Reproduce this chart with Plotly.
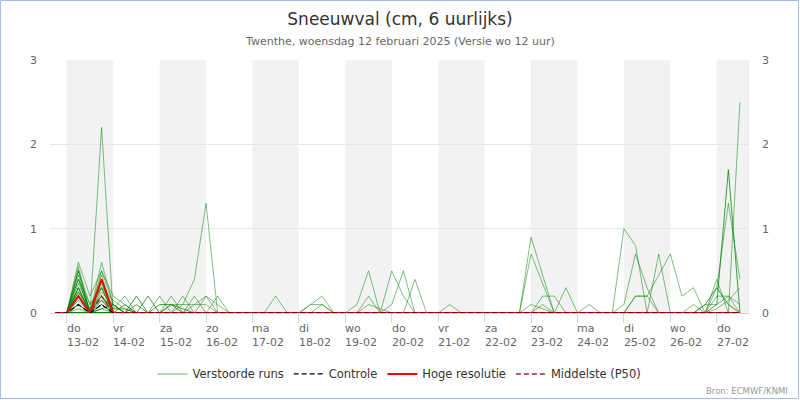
"""Sneeuwval pluim (ECMWF ensemble) voor Twenthe, 6-uurlijks."""

import pandas as pd
import plotly.graph_objects as go

# 6-uurlijkse stappen, stap 0 = wo 12-02 18:00
STAPPEN = pd.date_range("2025-02-12 18:00", periods=60, freq="6h")
DAGEN = pd.date_range("2025-02-13", periods=15, freq="D")
dag_namen = ["do", "vr", "za", "zo", "ma", "di", "wo", "do",
             "vr", "za", "zo", "ma", "di", "wo", "do"]
dag_datums = ["13-02", "14-02", "15-02", "16-02", "17-02", "18-02", "19-02", "20-02",
              "21-02", "22-02", "23-02", "24-02", "25-02", "26-02", "27-02"]
grijze_dagen = [0, 2, 4, 6, 8, 10, 12, 14]

# sneeuw per run in cm, {stap: waarde}; niet genoemde stappen zijn 0
runs_13feb = [
    {2: 0.6, 3: 0.2, 4: 0.5, 5: 0.2, 6: 0.1},
    {2: 0.55, 4: 0.6, 5: 0.1},
    {2: 0.5, 3: 0.1, 4: 0.3, 5: 0.15, 6: 0.05},
    {2: 0.45, 4: 0.45},
    {2: 0.4, 3: 0.1, 4: 0.3, 12: 0.2},
    {2: 0.35, 3: 0.05, 4: 0.15, 5: 0.1, 9: 0.2},
    {2: 0.3, 4: 2.2},
    {2: 0.25, 4: 0.1, 10: 0.2},
    {2: 0.2, 4: 0.05, 11: 0.2},
    {2: 0.15, 4: 0.35, 13: 0.2},
    {2: 0.1, 4: 0.25, 5: 0.1, 10: 0.1, 11: 0.1, 12: 0.1, 13: 0.1},
    {2: 0.05, 4: 0.5, 5: 0.1},
    {2: 0.3, 4: 0.4, 5: 0.05, 6: 0.2},
    {11: 0.1, 12: 0.4, 13: 1.3},
    {14: 0.2},
    {12: 0.1, 13: 0.2, 14: 0.1},
]
runs_13feb_donker = [
    {2: 0.5, 4: 0.15, 7: 0.2},
    {2: 0.4, 4: 0.2, 6: 0.1},
    {2: 0.3, 4: 0.1, 8: 0.2},
    {2: 0.2, 4: 0.3, 9: 0.1, 10: 0.1},
    {2: 0.1, 4: 0.05, 5: 0.1, 7: 0.1},
    {2: 0.25, 3: 0.05, 4: 0.2, 5: 0.05, 6: 0.05, 10: 0.1, 11: 0.05},
]
runs_17feb = [
    {19: 0.2},
    {22: 0.1, 23: 0.2},
    {22: 0.1, 23: 0.1},
    {23: 0.1},
    {26: 0.1, 27: 0.5},
    {27: 0.2},
    {27: 0.1, 28: 0.05},
    {29: 0.5, 30: 0.2},
    {29: 0.1, 30: 0.5},
    {31: 0.4},
    {34: 0.1},
]
runs_23feb = [
    {41: 0.9, 42: 0.45},
    {41: 0.7, 42: 0.35},
    {42: 0.2, 43: 0.2},
    {41: 0.1, 42: 0.05},
    {42: 0.1},
    {44: 0.3},
    {46: 0.1},
]
runs_25feb = [
    {49: 1.0, 50: 0.8},
    {49: 0.1, 50: 0.7, 51: 0.3},
    {50: 0.2, 51: 0.2, 52: 0.45, 53: 0.7, 54: 0.2, 55: 0.3},
    {52: 0.7},
    {55: 0.1},
    {50: 0.2, 51: 0.2},
]
runs_27feb = [
    {57: 0.3, 58: 1.3, 59: 0.4},
    {57: 0.4, 59: 2.5},
    {57: 0.2, 58: 0.2, 59: 0.1},
    {57: 0.05, 58: 0.15, 59: 0.3},
    {56: 0.1, 57: 0.1, 58: 0.2},
]
runs_27feb_donker = [
    {57: 0.1, 58: 1.7},
    {56: 0.1, 57: 0.3, 58: 0.1},
]

hoge_resolutie = {2: 0.2, 4: 0.4}
controle = {2: 0.1, 4: 0.1}
middelste = {2: 0.2, 4: 0.2}

X_BEGIN = pd.Timestamp("2025-02-12 15:20")
X_EIND = pd.Timestamp("2025-02-27 16:40")

FONT = "DejaVu Sans"
LICHT = "rgba(0,128,0,0.5)"
DONKER = "rgba(0,128,0,0.75)"


def reeks(punten):
    """Sparse {stap: cm} -> volledige reeks over alle stappen."""
    return [punten.get(i, 0.0) for i in range(len(STAPPEN))]


fig = go.Figure()

licht = runs_13feb + runs_17feb + runs_23feb + runs_25feb + runs_27feb
donker = runs_13feb_donker + runs_27feb_donker
for runs, kleur in ((licht, LICHT), (donker, DONKER)):
    for run in runs:
        fig.add_trace(go.Scatter(
            x=STAPPEN, y=reeks(run), mode="lines",
            line=dict(color=kleur, width=1),
            showlegend=False, hoverinfo="skip",
        ))

# legenda-items
fig.add_trace(go.Scatter(x=[None], y=[None], mode="lines", name="Verstoorde runs",
                         line=dict(color="rgba(0,128,0,0.3)", width=2), legendrank=1))
fig.add_trace(go.Scatter(x=STAPPEN, y=reeks(hoge_resolutie), mode="lines", name="Hoge resolutie",
                         line=dict(color="#ff0000", width=2), legendrank=3))
fig.add_trace(go.Scatter(x=STAPPEN, y=reeks(middelste), mode="lines", name="Middelste (P50)",
                         line=dict(color="#a52a2a", width=1.5, dash="5px,3px"), legendrank=4))
fig.add_trace(go.Scatter(x=STAPPEN, y=reeks(controle), mode="lines", name="Controle",
                         line=dict(color="#000000", width=1.2, dash="5px,3px"), legendrank=2))
# rechter as
fig.add_trace(go.Scatter(x=[STAPPEN[0]], y=[0], yaxis="y2", mode="lines",
                         line=dict(width=0), showlegend=False, hoverinfo="skip"))

# grijze dagen
for i in grijze_dagen:
    x0 = DAGEN[i]
    x1 = min(x0 + pd.Timedelta(days=1), X_EIND)
    fig.add_shape(type="rect", xref="x", yref="paper", x0=x0, x1=x1, y0=0, y1=1,
                  fillcolor="#f2f2f2", line_width=0, layer="below")

# daglabels links uitgelijnd onder de tick
for d, naam, datum in zip(DAGEN, dag_namen, dag_datums):
    fig.add_annotation(x=d, y=-0.026, xref="x", yref="paper", text=f"{naam}<br>{datum}",
                       showarrow=False, xanchor="left", yanchor="top", align="left",
                       font=dict(size=11, color="#666666", family=FONT), xshift=-2)

fig.add_annotation(text="Twenthe, woensdag 12 februari 2025 (Versie wo 12 uur)",
                   xref="paper", yref="paper", x=0.5, y=1.075, showarrow=False,
                   yanchor="middle", font=dict(size=11, color="#666666", family=FONT))
fig.add_annotation(text="Bron: ECMWF/KNMI", xref="paper", yref="paper", x=1.058, y=-0.308,
                   showarrow=False, xanchor="right", yanchor="middle",
                   font=dict(size=8.5, color="#999999", family=FONT))

# rand
fig.add_shape(type="rect", xref="paper", yref="paper",
              x0=(0.5 - 50) / 699, x1=(798.5 - 50) / 699,
              y0=(313 - 398.5) / 253, y1=(313 - 0.5) / 253,
              line=dict(color="#a0bfe8", width=1), fillcolor="rgba(0,0,0,0)", layer="above")

fig.update_layout(
    width=800, height=400, autosize=False,
    margin=dict(l=50, r=51, t=60, b=87),
    paper_bgcolor="white", plot_bgcolor="white",
    font=dict(family=FONT, color="#333333"),
    title=dict(text="Sneeuwval (cm, 6 uurlijks)", x=0.5, xanchor="center",
               y=1 - 19 / 400, yanchor="middle", yref="container",
               font=dict(size=17, color="#333333", family=FONT)),
    legend=dict(orientation="h", x=0.5, xanchor="center", y=-0.241, yanchor="middle",
                font=dict(size=11.5, color="#333333", family=FONT), itemwidth=30,
                bgcolor="rgba(0,0,0,0)"),
    xaxis=dict(range=[X_BEGIN, X_EIND], tickvals=list(DAGEN), showticklabels=False,
               ticks="outside", ticklen=9, tickcolor="#ccd6eb", showgrid=False,
               showline=True, linecolor="#ccd6eb", zeroline=False),
    yaxis=dict(range=[0, 3], tickvals=[0, 1, 2, 3], gridcolor="#e6e6e6", zeroline=False,
               ticks="", ticklabelstandoff=12,
               tickfont=dict(size=11, color="#666666", family=FONT)),
    yaxis2=dict(range=[0, 3], tickvals=[0, 1, 2, 3], overlaying="y", side="right",
                showgrid=False, zeroline=False, ticks="", ticklabelstandoff=12,
                tickfont=dict(size=11, color="#666666", family=FONT)),
)

# pagina zonder standaard body-marge, zodat de grafiek op (0,0) begint
fig.write_html("out.html", config={"displayModeBar": False},
               post_script="document.body.style.margin='0';")
